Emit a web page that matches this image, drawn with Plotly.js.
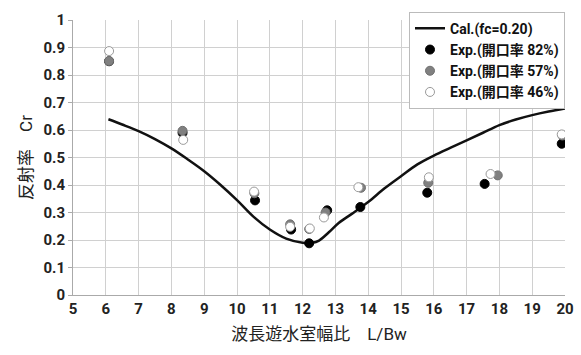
<!DOCTYPE html>
<html>
<head>
<meta charset="utf-8">
<script src="https://cdn.plot.ly/plotly-3.0.1.min.js"></script>
<style>html,body{margin:0;padding:0;background:#fff;}#chart{width:581px;height:355px;}</style>
</head>
<body>
<div id="chart"></div>
<script>
// Calculated curve (fc=0.20)
const calX = [6.08, 6.5, 7, 7.5, 8, 8.5, 9, 9.5, 10, 10.5, 11, 11.5, 12, 12.3, 12.5, 12.8, 13.1, 13.5, 14, 14.5, 15, 15.5, 16, 16.5, 17, 17.5, 18, 18.5, 19, 19.5, 20];
const calY = [0.639, 0.62, 0.596, 0.567, 0.533, 0.493, 0.45, 0.40, 0.345, 0.285, 0.238, 0.205, 0.19, 0.19, 0.198, 0.228, 0.262, 0.295, 0.338, 0.388, 0.432, 0.475, 0.507, 0.535, 0.562, 0.59, 0.618, 0.638, 0.654, 0.667, 0.678];
// Experiments
const exp82X = [6.1, 8.34, 10.55, 11.65, 12.2, 12.75, 13.76, 15.8, 17.55, 19.9];
const exp82Y = [0.85, 0.59, 0.344, 0.238, 0.188, 0.308, 0.32, 0.372, 0.404, 0.55];
const exp57X = [6.1, 8.34, 10.53, 11.62, 12.2, 12.7, 13.78, 15.83, 17.95, 19.92];
const exp57Y = [0.851, 0.597, 0.37, 0.257, 0.24, 0.30, 0.39, 0.408, 0.435, 0.58];
const exp46X = [6.1, 8.36, 10.52, 11.62, 12.22, 12.65, 13.7, 15.85, 17.73, 19.9];
const exp46Y = [0.887, 0.564, 0.376, 0.248, 0.242, 0.282, 0.392, 0.428, 0.44, 0.584];
const xTicks = [5,6,7,8,9,10,11,12,13,14,15,16,17,18,19,20];
const yTicks = [0,0.1,0.2,0.3,0.4,0.5,0.6,0.7,0.8,0.9,1];
const yTickText = ['0','0.1','0.2','0.3','0.4','0.5','0.6','0.7','0.8','0.9','1'];

const FONT = "Roboto, 'Noto Sans CJK JP', sans-serif";
const data = [
  {x: calX, y: calY, mode: 'lines', name: 'Cal.(fc=0.20)', line: {color: '#111', width: 2.5, shape: 'spline', smoothing: 1}},
  {x: exp82X, y: exp82Y, mode: 'markers', name: 'Exp.(開口率 82%)', marker: {color: '#000', size: 9, line: {color: '#000', width: 1}}},
  {x: exp57X, y: exp57Y, mode: 'markers', name: 'Exp.(開口率 57%)', marker: {color: '#808080', size: 9, line: {color: '#707070', width: 1}}},
  {x: exp46X, y: exp46Y, mode: 'markers', name: 'Exp.(開口率 46%)', marker: {color: '#fff', size: 9, line: {color: '#9a9a9a', width: 1}}}
];
const layout = {
  width: 581, height: 355,
  margin: {l: 73, r: 16, t: 17, b: 60},
  paper_bgcolor: '#fff', plot_bgcolor: '#fff',
  font: {family: FONT, color: '#222'},
  showlegend: true,
  legend: {x: 1, xanchor: 'right', y: 1.03, yanchor: 'top', bgcolor: '#fff', bordercolor: '#bbb', borderwidth: 1,
           font: {family: FONT, size: 14, color: '#111', weight: 'bold'}, tracegroupgap: 0, itemwidth: 30},
  xaxis: {range: [5, 20], tickmode: 'array', tickvals: xTicks, ticktext: xTicks.map(String),
          showgrid: true, gridcolor: '#d0d0d0', gridwidth: 1, zeroline: false,
          showline: true, linecolor: '#aaa', linewidth: 1, ticks: '',
          tickfont: {family: FONT, size: 15, color: '#222', weight: 'bold'},
          title: {text: '波長遊水室幅比　L/Bw', font: {family: FONT, size: 17, color: '#222'}, standoff: 11}},
  yaxis: {range: [0, 1], tickmode: 'array', tickvals: yTicks, ticktext: yTickText,
          showgrid: true, gridcolor: '#d0d0d0', gridwidth: 1, zeroline: false,
          showline: true, linecolor: '#aaa', linewidth: 1, ticks: 'outside', ticklen: 4, tickcolor: '#aaa',
          tickfont: {family: FONT, size: 15, color: '#222', weight: 'bold'},
          title: {text: '反射率　Cr', font: {family: FONT, size: 17, color: '#222'}, standoff: 6}}
};
Plotly.newPlot('chart', data, layout, {displayModeBar: false, staticPlot: true});
</script>
</body>
</html>
